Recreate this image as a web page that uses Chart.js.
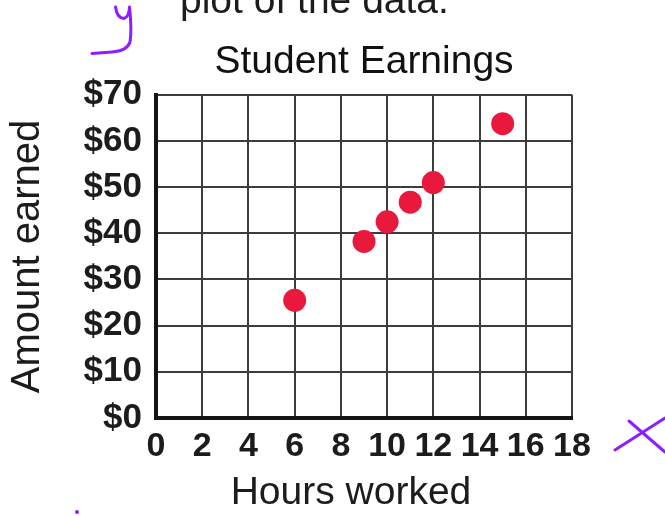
<!DOCTYPE html>
<html>
<head>
<meta charset="utf-8">
<script src="https://cdn.jsdelivr.net/npm/chart.js@4/dist/chart.umd.min.js"></script>
<style>
  html, body { margin: 0; padding: 0; background: #fff; }
  #wrap { width: 665px; height: 516px; position: relative; }
</style>
</head>
<body>
<div id="wrap"><canvas id="chart"></canvas></div>
<script>
// Student Earnings data ($8.50 per hour)
const hoursWorked  = [6, 9, 10, 11, 12, 15];
const amountEarned = [25.5, 38.25, 42.5, 46.75, 51, 63.75];

const xLabel = 'Hours worked';
const yLabel = 'Amount earned';
const chartTitle = 'Student Earnings';
const cutOffText = 'plot of the data.';

const FONT = '"Liberation Sans", Arial, Helvetica, sans-serif';
const INK = '#1c1c1c';
const PEN = '#8c1eff';

// Plugin: the cut-off worksheet line at the top, the x-axis title and the purple pen marks
const pageMarks = {
  id: 'pageMarks',
  afterDraw(chart) {
    const { ctx, chartArea } = chart;
    ctx.save();
    ctx.fillStyle = INK;
    ctx.font = `39px ${FONT}`;
    ctx.textAlign = 'left';
    ctx.textBaseline = 'alphabetic';
    ctx.fillText(cutOffText, 180, 13);

    ctx.textAlign = 'center';
    ctx.textBaseline = 'middle';
    ctx.font = `39px ${FONT}`;
    ctx.fillText(xLabel, chartArea.left + 195, 493);

    // handwritten "y" and "x"
    ctx.strokeStyle = PEN;
    ctx.lineWidth = 3;
    ctx.lineCap = 'round';
    ctx.lineJoin = 'round';
    ctx.beginPath();
    ctx.moveTo(115.5, 7);
    ctx.quadraticCurveTo(117, 18, 124, 18.5);
    ctx.quadraticCurveTo(129, 17, 129.5, 7);
    ctx.moveTo(129.5, 7);
    ctx.quadraticCurveTo(132, 30, 130, 42);
    ctx.quadraticCurveTo(127, 51, 112, 52);
    ctx.lineTo(92, 53.5);
    ctx.stroke();

    ctx.beginPath();
    ctx.moveTo(629, 421);
    ctx.lineTo(665, 452);
    ctx.moveTo(615, 450);
    ctx.lineTo(665, 418);
    ctx.stroke();

    ctx.fillStyle = PEN;
    ctx.beginPath();
    ctx.arc(77, 512, 2, 0, Math.PI * 2);
    ctx.fill();
    ctx.restore();
  },
};

Chart.register(pageMarks);

new Chart(document.getElementById('chart'), {
  type: 'scatter',
  data: {
    datasets: [{
      label: chartTitle,
      data: hoursWorked.map((h, i) => ({ x: h, y: amountEarned[i] })),
      backgroundColor: '#e8193c',
      borderColor: '#e8193c',
      borderWidth: 0,
      pointRadius: 11.5,
      pointHoverRadius: 11.5,
    }],
  },
  options: {
    responsive: true,
    maintainAspectRatio: false,
    animation: false,
    layout: { padding: { top: 0, left: 0, right: 93, bottom: 0 } },
    plugins: {
      legend: { display: false },
      tooltip: { enabled: false },
      title: {
        display: true,
        text: chartTitle,
        fullSize: false,
        color: '#111',
        font: { family: FONT, size: 39, weight: 'normal', lineHeight: 1.2 },
        padding: { top: 39, bottom: 9 },
      },
    },
    scales: {
      x: {
        type: 'linear',
        min: 0,
        max: 18,
        afterFit: s => { s.height = 98; },
        border: { color: '#151515', width: 4 },
        grid: { color: '#3c3c3c', lineWidth: 2, drawTicks: false },
        ticks: {
          stepSize: 2,
          color: INK,
          padding: 8,
          maxRotation: 0,
          autoSkip: false,
          font: { family: FONT, size: 34, weight: 'bold', lineHeight: 1.2 },
        },
      },
      y: {
        type: 'linear',
        min: 0,
        max: 70,
        afterFit: s => { s.width = 156; },
        border: { color: '#151515', width: 4 },
        grid: { color: '#3c3c3c', lineWidth: 2, drawTicks: false },
        ticks: {
          stepSize: 10,
          color: INK,
          padding: 14,
          autoSkip: false,
          font: { family: FONT, size: 35, weight: 'bold', lineHeight: 1.2 },
          callback: v => '$' + v,
        },
        title: {
          display: true,
          text: yLabel,
          color: INK,
          font: { family: FONT, size: 40, weight: 'normal', lineHeight: 1.2 },
          padding: { top: 4, bottom: 0 },
        },
      },
    },
  },
});
</script>
</body>
</html>
